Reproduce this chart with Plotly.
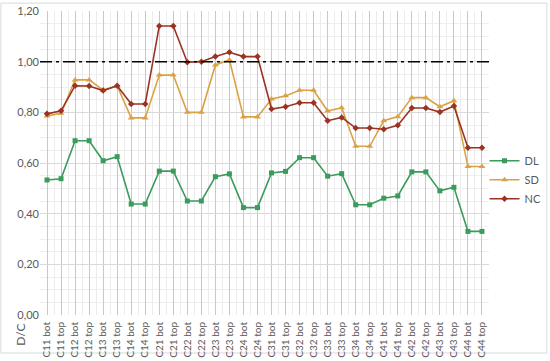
import plotly.graph_objects as go

categories = ["C11 bot", "C11 top", "C12 bot", "C12 top", "C13 bot", "C13 top", "C14 bot", "C14 top",
              "C21 bot", "C21 top", "C22 bot", "C22 top", "C23 bot", "C23 top", "C24 bot", "C24 top",
              "C31 bot", "C31 top", "C32 bot", "C32 top", "C33 bot", "C33 top", "C34 bot", "C34 top",
              "C41 bot", "C41 top", "C42 bot", "C42 top", "C43 bot", "C43 top", "C44 bot", "C44 top"]

dl = [0.533, 0.538, 0.688, 0.688, 0.609, 0.625, 0.438, 0.438,
      0.568, 0.568, 0.450, 0.450, 0.546, 0.557, 0.424, 0.424,
      0.561, 0.567, 0.621, 0.621, 0.548, 0.558, 0.435, 0.435,
      0.461, 0.470, 0.565, 0.565, 0.490, 0.504, 0.330, 0.330]

sd = [0.786, 0.796, 0.928, 0.928, 0.888, 0.904, 0.778, 0.778,
      0.947, 0.947, 0.800, 0.800, 0.987, 1.007, 0.782, 0.782,
      0.853, 0.865, 0.887, 0.887, 0.805, 0.818, 0.666, 0.666,
      0.767, 0.783, 0.858, 0.858, 0.822, 0.846, 0.586, 0.586]

nc = [0.794, 0.806, 0.905, 0.904, 0.886, 0.905, 0.833, 0.833,
      1.141, 1.141, 0.998, 1.000, 1.020, 1.037, 1.020, 1.020,
      0.813, 0.822, 0.838, 0.838, 0.767, 0.780, 0.738, 0.738,
      0.733, 0.749, 0.817, 0.817, 0.801, 0.825, 0.660, 0.660]

limit = 1.0
y_ticks = [0, 0.2, 0.4, 0.6, 0.8, 1.0, 1.2]

x = list(range(len(categories)))
FONT = "Lato, Calibri, Carlito, sans-serif"

fig = go.Figure()
fig.add_trace(go.Scatter(x=x, y=dl, name="DL", mode="lines+markers",
                         line=dict(color="#3a9b5c", width=1.6),
                         marker=dict(symbol="square", size=5, color="#3a9b5c")))
fig.add_trace(go.Scatter(x=x, y=sd, name="SD", mode="lines+markers",
                         line=dict(color="#dba244", width=1.6),
                         marker=dict(symbol="triangle-up", size=6, color="#dba244")))
fig.add_trace(go.Scatter(x=x, y=nc, name="NC", mode="lines+markers",
                         line=dict(color="#9a3322", width=1.6),
                         marker=dict(symbol="diamond", size=5, color="#9a3322")))

fig.add_shape(type="line", xref="paper", yref="y", x0=0, x1=1, y0=limit, y1=limit,
              line=dict(color="black", width=1.5, dash="12px,4px,3px,4px"))

# outer chart border
fig.add_shape(type="rect", xref="paper", yref="paper",
              x0=-0.087, x1=1.129, y0=-0.125, y1=1.026,
              line=dict(color="#d9d9d9", width=1), layer="below")

fig.add_annotation(text="D/C", xref="paper", yref="paper", x=-0.045, y=-0.066,
                   xanchor="center", yanchor="middle",
                   textangle=-90, showarrow=False,
                   font=dict(family=FONT, size=12, color="#595959"))

fig.update_layout(
    width=550, height=361,
    margin=dict(l=40, r=61, t=11, b=46, autoexpand=False),
    paper_bgcolor="white", plot_bgcolor="white",
    separators=",.",
    font=dict(family=FONT, size=11, color="#595959"),
    showlegend=True,
    legend=dict(x=0.99, y=0.445, xanchor="left", yanchor="middle",
                font=dict(family=FONT, size=11, color="#595959"),
                itemwidth=30, tracegroupgap=0, bgcolor="rgba(0,0,0,0)"),
    xaxis=dict(range=[-0.5, len(categories) - 0.5], tickmode="array", tickvals=x,
               ticktext=categories, tickangle=-90, showgrid=True, gridcolor="#c8c8c8",
               gridwidth=1, zeroline=False, ticks="", showline=False, automargin=False,
               ticklabelstandoff=4,
               minor=dict(dtick=0.5, tick0=-0.5, showgrid=True, gridcolor="#ececec", gridwidth=1),
               tickfont=dict(size=10, color="#595959")),
    yaxis=dict(range=[0, 1.2], tickmode="array", tickvals=y_ticks, tickformat=".2f",
               showgrid=True, gridcolor="#d9d9d9", zeroline=False, ticks="", automargin=False,
               minor=dict(dtick=0.05, showgrid=True, gridcolor="#efefef", gridwidth=1),
               tickfont=dict(size=11, color="#595959")),
)

fig.write_html("out.html", config={"displayModeBar": False},
               post_script="document.body.style.margin='0';")
